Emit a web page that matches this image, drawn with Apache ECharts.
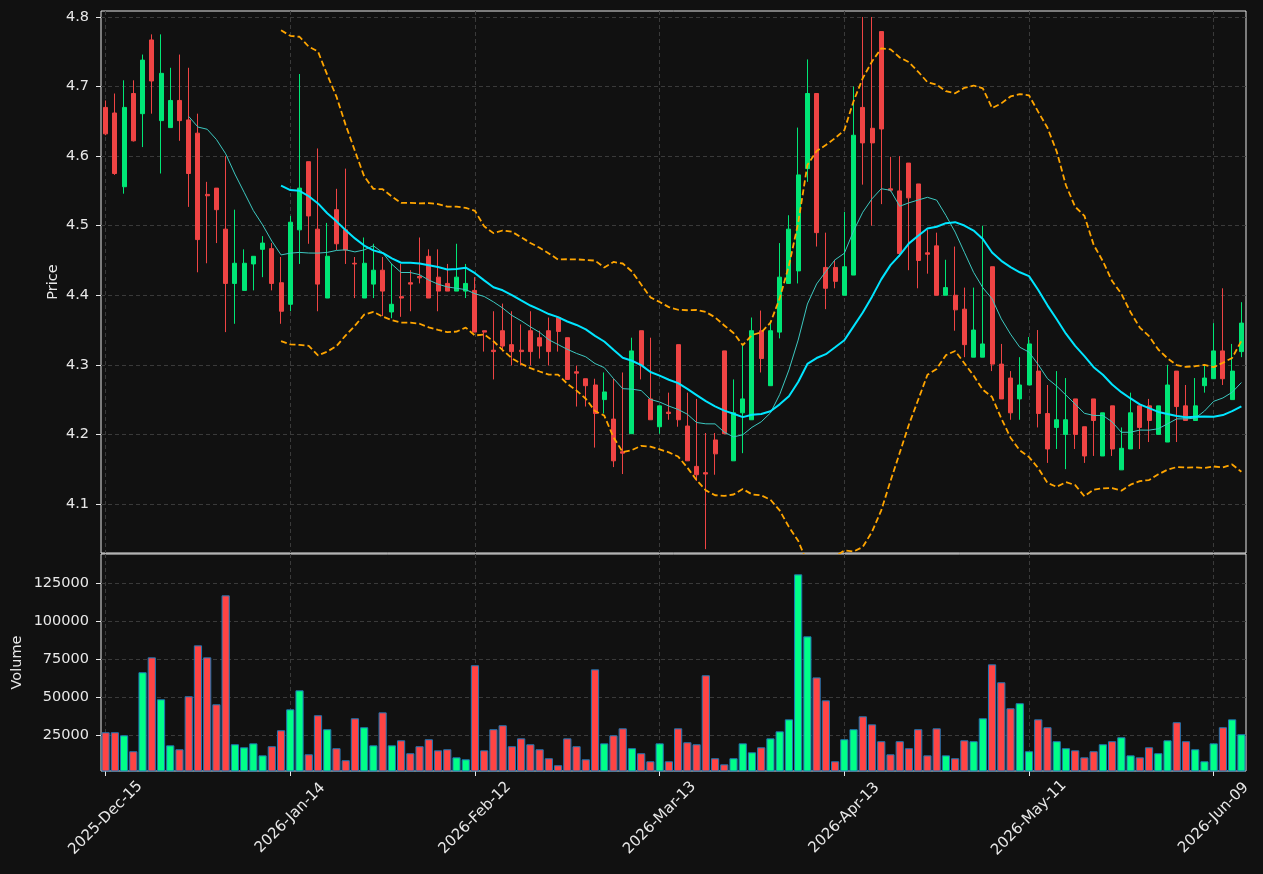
<!DOCTYPE html>
<html>
<head>
<meta charset="utf-8">
<title>Price and volume</title>
<script src="https://cdn.jsdelivr.net/npm/echarts@6.0.0/dist/echarts.min.js"></script>
<style>
  html, body { margin: 0; padding: 0; background: #111111; }
  #chart { width: 1263px; height: 874px; }
</style>
</head>
<body>
<div id="chart"></div>
<script>
// trading days shown on the x axis
const dates = [
  '2025-Dec-15','2025-Dec-16','2025-Dec-17','2025-Dec-18','2025-Dec-19','2025-Dec-22','2025-Dec-23','2025-Dec-24','2025-Dec-26','2025-Dec-29',
  '2025-Dec-30','2025-Dec-31','2026-Jan-02','2026-Jan-05','2026-Jan-06','2026-Jan-07','2026-Jan-08','2026-Jan-09','2026-Jan-12','2026-Jan-13',
  '2026-Jan-14','2026-Jan-15','2026-Jan-16','2026-Jan-20','2026-Jan-21','2026-Jan-22','2026-Jan-23','2026-Jan-26','2026-Jan-27','2026-Jan-28',
  '2026-Jan-29','2026-Jan-30','2026-Feb-02','2026-Feb-03','2026-Feb-04','2026-Feb-05','2026-Feb-06','2026-Feb-09','2026-Feb-10','2026-Feb-11',
  '2026-Feb-12','2026-Feb-13','2026-Feb-17','2026-Feb-18','2026-Feb-19','2026-Feb-20','2026-Feb-23','2026-Feb-24','2026-Feb-25','2026-Feb-26',
  '2026-Feb-27','2026-Mar-02','2026-Mar-03','2026-Mar-04','2026-Mar-05','2026-Mar-06','2026-Mar-09','2026-Mar-10','2026-Mar-11','2026-Mar-12',
  '2026-Mar-13','2026-Mar-16','2026-Mar-17','2026-Mar-18','2026-Mar-19','2026-Mar-20','2026-Mar-23','2026-Mar-24','2026-Mar-25','2026-Mar-26',
  '2026-Mar-27','2026-Mar-30','2026-Mar-31','2026-Apr-01','2026-Apr-02','2026-Apr-06','2026-Apr-07','2026-Apr-08','2026-Apr-09','2026-Apr-10',
  '2026-Apr-13','2026-Apr-14','2026-Apr-15','2026-Apr-16','2026-Apr-17','2026-Apr-20','2026-Apr-21','2026-Apr-22','2026-Apr-23','2026-Apr-24',
  '2026-Apr-27','2026-Apr-28','2026-Apr-29','2026-Apr-30','2026-May-01','2026-May-04','2026-May-05','2026-May-06','2026-May-07','2026-May-08',
  '2026-May-11','2026-May-12','2026-May-13','2026-May-14','2026-May-15','2026-May-18','2026-May-19','2026-May-20','2026-May-21','2026-May-22',
  '2026-May-26','2026-May-27','2026-May-28','2026-May-29','2026-Jun-01','2026-Jun-02','2026-Jun-03','2026-Jun-04','2026-Jun-05','2026-Jun-08',
  '2026-Jun-09','2026-Jun-10','2026-Jun-11','2026-Jun-12'
];

const opens = [
  4.670,4.662,4.556,4.690,4.661,4.767,4.651,4.641,4.680,4.652,
  4.633,4.545,4.554,4.495,4.417,4.407,4.445,4.466,4.467,4.418,
  4.387,4.494,4.592,4.495,4.396,4.523,4.494,4.446,4.396,4.416,
  4.436,4.376,4.398,4.418,4.427,4.456,4.426,4.417,4.406,4.406,
  4.407,4.349,4.321,4.349,4.329,4.321,4.349,4.339,4.349,4.368,
  4.339,4.290,4.280,4.271,4.250,4.222,4.175,4.201,4.349,4.251,
  4.211,4.232,4.329,4.212,4.154,4.145,4.192,4.320,4.162,4.231,
  4.221,4.349,4.270,4.347,4.417,4.435,4.582,4.690,4.440,4.440,
  4.400,4.429,4.670,4.640,4.779,4.553,4.550,4.590,4.560,4.461,
  4.471,4.400,4.400,4.380,4.311,4.311,4.441,4.301,4.281,4.251,
  4.271,4.291,4.230,4.210,4.200,4.251,4.211,4.251,4.169,4.241,
  4.149,4.179,4.241,4.241,4.200,4.189,4.291,4.241,4.220,4.270,
  4.280,4.320,4.250,4.319
];
const highs = [
  4.680,4.690,4.709,4.709,4.746,4.775,4.775,4.727,4.746,4.727,
  4.661,4.563,4.554,4.600,4.523,4.466,4.456,4.485,4.475,4.455,
  4.514,4.718,4.592,4.611,4.504,4.553,4.582,4.455,4.483,4.474,
  4.455,4.445,4.445,4.436,4.483,4.466,4.466,4.445,4.474,4.445,
  4.426,4.349,4.377,4.388,4.377,4.358,4.377,4.349,4.368,4.368,
  4.339,4.299,4.280,4.280,4.289,4.280,4.289,4.339,4.349,4.339,
  4.241,4.260,4.329,4.260,4.251,4.202,4.202,4.320,4.279,4.329,
  4.368,4.378,4.363,4.475,4.515,4.641,4.739,4.690,4.490,4.451,
  4.520,4.700,4.800,4.800,4.779,4.599,4.600,4.590,4.560,4.494,
  4.490,4.451,4.470,4.411,4.411,4.500,4.441,4.330,4.291,4.311,
  4.340,4.350,4.271,4.291,4.281,4.251,4.211,4.251,4.231,4.241,
  4.210,4.260,4.241,4.251,4.241,4.300,4.291,4.271,4.281,4.301,
  4.360,4.410,4.330,4.390
];
const lows = [
  4.630,4.573,4.546,4.621,4.613,4.661,4.575,4.641,4.622,4.527,
  4.433,4.446,4.475,4.347,4.359,4.407,4.407,4.426,4.407,4.359,
  4.377,4.445,4.474,4.377,4.396,4.465,4.445,4.396,4.396,4.396,
  4.370,4.367,4.369,4.377,4.417,4.396,4.377,4.406,4.406,4.396,
  4.347,4.319,4.279,4.319,4.299,4.299,4.299,4.309,4.299,4.319,
  4.279,4.240,4.240,4.181,4.230,4.153,4.143,4.201,4.279,4.221,
  4.201,4.221,4.211,4.162,4.133,4.035,4.142,4.201,4.162,4.173,
  4.221,4.289,4.270,4.338,4.417,4.417,4.563,4.470,4.380,4.410,
  4.400,4.429,4.559,4.500,4.531,4.549,4.455,4.436,4.410,4.431,
  4.400,4.400,4.349,4.311,4.311,4.311,4.291,4.251,4.221,4.221,
  4.271,4.210,4.159,4.179,4.150,4.179,4.159,4.169,4.169,4.169,
  4.149,4.179,4.179,4.189,4.200,4.189,4.189,4.220,4.220,4.260,
  4.280,4.271,4.250,4.311
];
const closes = [
  4.632,4.575,4.670,4.622,4.738,4.708,4.719,4.680,4.651,4.575,
  4.480,4.543,4.523,4.417,4.446,4.446,4.456,4.475,4.417,4.377,
  4.505,4.554,4.514,4.416,4.456,4.474,4.465,4.445,4.446,4.436,
  4.406,4.387,4.396,4.416,4.425,4.396,4.406,4.406,4.426,4.417,
  4.347,4.347,4.319,4.327,4.319,4.319,4.319,4.327,4.319,4.348,
  4.279,4.288,4.270,4.230,4.261,4.162,4.173,4.320,4.299,4.221,
  4.241,4.230,4.221,4.162,4.142,4.143,4.172,4.201,4.231,4.251,
  4.349,4.309,4.349,4.426,4.495,4.573,4.690,4.490,4.410,4.420,
  4.441,4.630,4.619,4.619,4.639,4.551,4.460,4.540,4.450,4.459,
  4.400,4.411,4.379,4.329,4.350,4.330,4.301,4.251,4.231,4.271,
  4.330,4.230,4.179,4.221,4.221,4.200,4.169,4.220,4.231,4.179,
  4.180,4.231,4.210,4.220,4.241,4.271,4.240,4.220,4.241,4.281,
  4.320,4.280,4.291,4.360
];
const volumes = [
  27000,27000,25000,14500,66500,76300,48700,18400,15800,50700,
  84200,76300,45400,117100,19100,17100,19700,11800,17800,28300,
  42100,54600,12500,38200,29000,16500,8600,36200,30300,18400,
  40100,18400,21700,13200,17800,22400,15100,15800,10500,9200,
  71100,15100,29000,31600,17800,23000,19100,15800,9900,5300,
  23000,17800,9200,68400,19700,25000,29600,16500,13200,7900,
  19700,7900,29600,20400,19100,64500,9900,5900,9900,19700,
  13800,17100,23000,27600,35500,130900,90100,63100,48000,7900,
  22400,29000,37500,32200,21100,12500,21100,16500,29000,11800,
  29600,11800,9900,21700,21100,36200,71700,59900,42800,46100,
  14500,35500,30300,21100,16500,15100,10500,14500,19100,21100,
  23700,11800,10500,17100,13200,21700,33600,21100,15800,7900,
  19700,30300,35500,25700
];

const priceTicks = [4.1, 4.2, 4.3, 4.4, 4.5, 4.6, 4.7, 4.8];
const volumeTicks = [25000, 50000, 75000, 100000, 125000];

// moving averages and bollinger band of the closes
function sma(arr, n) {
  return arr.map((v, i) => {
    if (i < n - 1) return '-';
    let s = 0;
    for (let k = i - n + 1; k <= i; k++) s += arr[k];
    return s / n;
  });
}
function band(arr, n, mult) {
  const mid = sma(arr, n);
  return arr.map((v, i) => {
    if (i < n - 1) return '-';
    let s = 0;
    for (let k = i - n + 1; k <= i; k++) s += (arr[k] - mid[i]) * (arr[k] - mid[i]);
    return mid[i] + mult * Math.sqrt(s / n);
  });
}

const ma10 = sma(closes, 10);
const ma20 = sma(closes, 20);
const upperBand = band(closes, 20, 2);
const lowerBand = band(closes, 20, -2);

const upColor = '#00e676';
const downColor = '#ef4444';
const volUp = '#00ff88';
const volDown = '#ff4444';
const textColor = '#e8e8e8';

const ohlc = opens.map((o, i) => [o, closes[i], lows[i], highs[i]]);
const volData = volumes.map((v, i) => ({
  value: v,
  itemStyle: { color: closes[i] >= opens[i] ? volUp : volDown }
}));

const gridLineStyle = { color: '#3a3a3a', type: [4, 3], width: 1 };

const chart = echarts.init(document.getElementById('chart'));
chart.setOption({
  backgroundColor: '#111111',
  animation: false,
  textStyle: { fontFamily: 'DejaVu Sans', color: textColor },
  grid: [
    { left: 101, right: 17, top: 11, height: 542, show: true, borderColor: '#e8e8e8', borderWidth: 1, backgroundColor: 'transparent' },
    { left: 101, right: 17, top: 554, height: 217, show: true, borderColor: '#e8e8e8', borderWidth: 1, backgroundColor: 'transparent' }
  ],
  xAxis: [
    {
      type: 'category', gridIndex: 0, data: dates,
      axisLine: { show: false }, axisTick: { show: false }, axisLabel: { show: false },
      splitLine: { show: true, interval: 19, alignWithLabel: true, lineStyle: gridLineStyle }
    },
    {
      type: 'category', gridIndex: 1, data: dates,
      axisLine: { show: false },
      axisTick: { show: true, interval: 19, alignWithLabel: true, length: 5, lineStyle: { color: textColor } },
      axisLabel: {
        interval: 19, rotate: 45, align: 'center', verticalAlign: 'middle',
        fontSize: 15, color: textColor, margin: 47
      },
      splitLine: { show: true, interval: 19, alignWithLabel: true, lineStyle: gridLineStyle }
    }
  ],
  yAxis: [
    {
      type: 'value', gridIndex: 0, min: 4.0295, max: 4.8086,
      name: 'Price', nameLocation: 'middle', nameGap: 40, nameMoveOverlap: false,
      nameTextStyle: { fontSize: 14.5, color: textColor },
      axisLine: { show: false },
      axisTick: { show: true, length: 5, customValues: priceTicks, lineStyle: { color: textColor } },
      axisLabel: { customValues: priceTicks, formatter: v => v.toFixed(1), fontSize: 14.5, color: textColor, margin: 12 },
      splitLine: { show: true, lineStyle: gridLineStyle }
    },
    {
      type: 'value', gridIndex: 1, min: 1500, max: 144300,
      name: 'Volume', nameLocation: 'middle', nameGap: 76, nameMoveOverlap: false,
      nameTextStyle: { fontSize: 14.5, color: textColor },
      axisLine: { show: false },
      axisTick: { show: true, length: 5, customValues: volumeTicks, lineStyle: { color: textColor } },
      axisLabel: { customValues: volumeTicks, formatter: v => String(v), fontSize: 14.5, color: textColor, margin: 12 },
      splitLine: { show: true, lineStyle: gridLineStyle }
    }
  ],
  series: [
    {
      name: 'Price', type: 'candlestick', xAxisIndex: 0, yAxisIndex: 0,
      data: ohlc, barWidth: 4.5,
      itemStyle: { color: upColor, color0: downColor, borderColor: upColor, borderColor0: downColor, borderWidth: 1 }
    },
    {
      name: 'MA10', type: 'line', xAxisIndex: 0, yAxisIndex: 0, data: ma10,
      showSymbol: false, lineStyle: { color: '#3cc8c0', width: 1 }, z: 3
    },
    {
      name: 'MA20', type: 'line', xAxisIndex: 0, yAxisIndex: 0, data: ma20,
      showSymbol: false, lineStyle: { color: '#00e5ff', width: 2 }, z: 3
    },
    {
      name: 'Upper', type: 'line', xAxisIndex: 0, yAxisIndex: 0, data: upperBand,
      showSymbol: false, lineStyle: { color: '#ffa500', width: 1.8, type: [6, 3] }, z: 3
    },
    {
      name: 'Lower', type: 'line', xAxisIndex: 0, yAxisIndex: 0, data: lowerBand,
      showSymbol: false, lineStyle: { color: '#ffa500', width: 1.8, type: [6, 3] }, z: 3
    },
    {
      name: 'Volume', type: 'bar', xAxisIndex: 1, yAxisIndex: 1, data: volData,
      barWidth: 8.2, itemStyle: { borderColor: '#1f77b4', borderWidth: 1 }
    }
  ]
});
</script>
</body>
</html>
